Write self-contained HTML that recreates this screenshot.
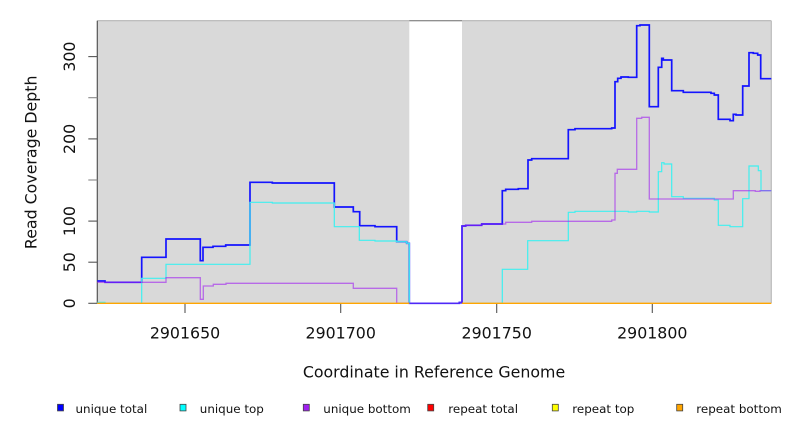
<!DOCTYPE html>
<html><head><meta charset="utf-8"><style>
html,body{margin:0;padding:0;background:#fff;}
svg{display:block;}
text{font-family:"DejaVu Sans","Liberation Sans",sans-serif;fill:#111;}
</style></head><body>
<svg width="792" height="432" viewBox="0 0 792 432" xmlns="http://www.w3.org/2000/svg">
<rect x="0" y="0" width="792" height="432" fill="#fff"/>
<!-- plot background -->
<rect x="97.3" y="20.7" width="674" height="282.6" fill="#d9d9d9"/>
<rect x="409.3" y="20.7" width="52.7" height="282.6" fill="#fff"/>
<!-- borders -->
<line x1="97.3" y1="20.7" x2="771.3" y2="20.7" stroke="#b4b4b4" stroke-width="1.2"/>
<line x1="409.3" y1="20.7" x2="462" y2="20.7" stroke="#888" stroke-width="1.2"/>
<line x1="771.3" y1="20.7" x2="771.3" y2="303.3" stroke="#bcbcbc" stroke-width="1.2"/>
<line x1="97.3" y1="20.7" x2="97.3" y2="303.3" stroke="#555" stroke-width="1.2"/>
<!-- y ticks -->
<g stroke="#555" stroke-width="1.1">
<line x1="88.3" y1="303.3" x2="97.3" y2="303.3"/>
<line x1="88.3" y1="262.2" x2="97.3" y2="262.2"/>
<line x1="88.3" y1="221.1" x2="97.3" y2="221.1"/>
<line x1="88.3" y1="180" x2="97.3" y2="180" stroke="#888"/>
<line x1="88.3" y1="138.9" x2="97.3" y2="138.9"/>
<line x1="88.3" y1="97.7" x2="97.3" y2="97.7" stroke="#888"/>
<line x1="88.3" y1="56.6" x2="97.3" y2="56.6"/>
</g>
<g font-size="15.8" text-anchor="middle">
<text transform="translate(75,303.3) rotate(-90)">0</text>
<text transform="translate(75,262.2) rotate(-90)">50</text>
<text transform="translate(75,221.1) rotate(-90)">100</text>
<text transform="translate(75,138.9) rotate(-90)">200</text>
<text transform="translate(75,56.6) rotate(-90)">300</text>
</g>
<!-- x ticks -->
<g stroke="#555" stroke-width="1.1">
<line x1="185" y1="303.3" x2="185" y2="313"/>
<line x1="340.7" y1="303.3" x2="340.7" y2="313"/>
<line x1="496.7" y1="303.3" x2="496.7" y2="313"/>
<line x1="652.3" y1="303.3" x2="652.3" y2="313"/>
</g>
<g font-size="15.8" text-anchor="middle">
<text x="185" y="338.3">2901650</text>
<text x="340.7" y="338.3">2901700</text>
<text x="496.7" y="338.3">2901750</text>
<text x="652.3" y="338.3">2901800</text>
</g>
<text x="434" y="377.5" font-size="15.8" text-anchor="middle">Coordinate in Reference Genome</text>
<text transform="translate(36.5,162.3) rotate(-90)" font-size="15.8" text-anchor="middle">Read Coverage Depth</text>

<!-- series -->
<g fill="none" stroke-linejoin="miter">
<path stroke="#1414ff" stroke-width="1.7" d="M97.3,281 H105 V282.3 H141.7 V257.3 H166 V239 H200.3 V260.7 H203 V247.3 H213 V246.3 H225.7 V245 H250 V182.3 H272.3 V183 H334.3 V207 H353.3 V211.7 H359.7 V225.7 H375 V226.7 H396.7 V241.7 H406.7 V243.3 H409.3 V303.3 H459.3 V302.5 H462 V226 H465.7 V225.3 H481.7 V224 H502.3 V190.7 H505.7 V189.3 H518.3 V188.7 H528 V160 H531.7 V158.7 H568.3 V129.7 H575 V128.7 H611.7 V128 H615 V81.7 H617.7 V78.3 H621 V77 H628.3 V77.3 H636.7 V25.7 H640 V25 H649.3 V106.7 H658.3 V67.3 H661.7 V58.3 H663.3 V60 H671.7 V90.7 H683.3 V92.3 H711 V93.3 H714.3 V95 H718.3 V119.3 H730 V120.7 H733.3 V114.3 H736 V115 H742.7 V86 H749 V52.7 H753.3 V53.3 H757.7 V55 H760.7 V78.7 H771.3"/>
<path stroke="#3ff0f0" stroke-width="1.2" d="M97.3,302.3 H105 V303.3 H141.7 V278.3 H166 V264.3 H250 V202.3 H272.3 V203 H334.3 V226.7 H359.3 V240.3 H375 V241 H396.7 V241.7 H406.7 V243.3 H409.3 V303.3 H502.3 V269.3 H527.7 V240.7 H568.3 V212.3 H575 V211.3 H628.3 V212 H636.7 V211.3 H649.3 V212 H658.3 V171.7 H661.7 V162.7 H664 V164 H671.7 V196.7 H683.3 V198.3 H714.3 V200 H718.3 V225.3 H730 V226.7 H742.7 V198.7 H749 V166 H758.3 V170.7 H761 V190.7 H771.3"/>
<path stroke="#a020f0" stroke-opacity="0.6" stroke-width="1.3" d="M97.3,282.3 H166 V277.7 H200.3 V299.3 H203.3 V286 H213.3 V284.3 H226 V283.3 H353.3 V288.3 H396.7 V303.3 H462 V226 H465.7 V225.3 H481.7 V224 H505.7 V222.3 H531.7 V221.3 H611.7 V220 H615 V173.3 H617.3 V169.3 H636.7 V118.3 H641.7 V117.3 H649.3 V199 H733.3 V190.7 H755.3 V191.3 H760 V190.7 H771.3"/>
<path stroke="#5028f8" stroke-width="1.3" d="M409.3,303.3 H459.3 V302.5 H462 V226"/>
<path stroke="#ffa500" stroke-width="1.3" d="M97.3,303.3 H409.3 M462,303.3 H771.3"/>
</g>

<!-- legend -->
<g stroke="#444" stroke-width="0.8">
<rect x="57.5" y="404.3" width="6" height="6.6" fill="#0000ff"/>
<rect x="180" y="404.3" width="6" height="6.6" fill="#00ffff"/>
<rect x="303.3" y="404.3" width="6" height="6.6" fill="#a020f0"/>
<rect x="427.7" y="404.3" width="6" height="6.6" fill="#ff0000"/>
<rect x="552.3" y="404.3" width="6" height="6.6" fill="#ffff00"/>
<rect x="676.7" y="404.3" width="6" height="6.6" fill="#ffa500"/>
</g>
<g font-size="11.9">
<text x="75.5" y="412.8">unique total</text>
<text x="199.8" y="412.8">unique top</text>
<text x="323.3" y="412.8">unique bottom</text>
<text x="448.3" y="412.8">repeat total</text>
<text x="572.3" y="412.8">repeat top</text>
<text x="696.3" y="412.8">repeat bottom</text>
</g>
</svg>
</body></html>
